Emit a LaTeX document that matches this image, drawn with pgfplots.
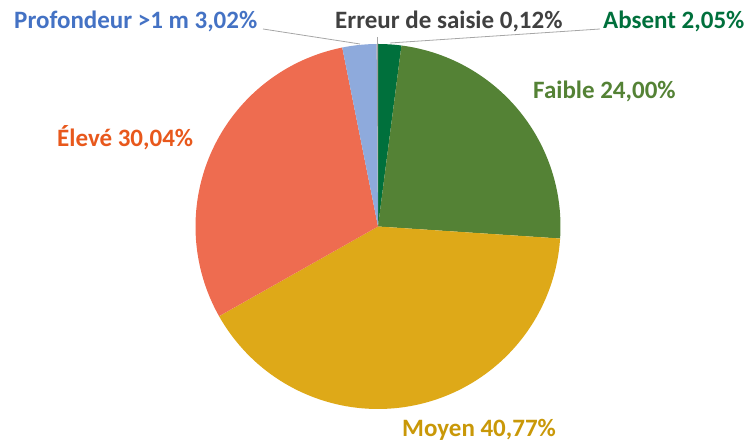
\documentclass[border=0pt]{standalone}
\usepackage{pgfplots}
\usepackage{pgfplotstable}
\pgfplotsset{compat=1.18}
\usepackage{fontspec}
\setmainfont{Carlito}
\definecolor{cAbsent}{RGB}{0,112,60}
\definecolor{cFaible}{RGB}{84,130,53}
\definecolor{cMoyen}{RGB}{222,169,24}
\definecolor{cEleve}{RGB}{238,108,80}
\definecolor{cProf}{RGB}{142,170,220}
\definecolor{cErreur}{RGB}{160,160,160}
\definecolor{tAbsent}{RGB}{0,112,60}
\definecolor{tFaible}{RGB}{84,130,53}
\definecolor{tMoyen}{RGB}{201,152,8}
\definecolor{tEleve}{RGB}{232,88,28}
\definecolor{tProf}{RGB}{68,114,196}
\definecolor{tErreur}{RGB}{64,64,64}
\definecolor{leader}{RGB}{166,166,166}

\pgfplotstableread{
name value
Absent 2.05
Faible 24.00
Moyen 40.77
Eleve 30.04
Profondeur 3.02
Erreur 0.12
}\piedata

\begin{document}
\begin{tikzpicture}
\gdef\cum{0}
\foreach \i in {0,...,5}{
  \pgfplotstablegetelem{\i}{value}\of\piedata
  \pgfmathsetmacro\st{90-3.6*\cum}
  \pgfmathsetmacro\newcum{\cum+\pgfplotsretval}
  \pgfmathsetmacro\en{90-3.6*\newcum}
  \expandafter\xdef\csname sa\i\endcsname{\st}
  \expandafter\xdef\csname ea\i\endcsname{\en}
  \xdef\cum{\newcum}
}
\begin{axis}[
  x=1pt, y=1pt, xmin=0, xmax=749, ymin=0, ymax=443,
  hide axis, scale only axis, clip=false,
]
\path (axis cs:0,0) rectangle (axis cs:749,443);
\def\cx{378}\def\cy{216.5}\def\r{182.5}
\addplot[fill=cAbsent, draw=none, domain=\csname ea0\endcsname:\csname sa0\endcsname, samples=10] ({\cx+\r*cos(x)},{\cy+\r*sin(x)}) -- (axis cs:\cx,\cy) -- cycle;
\addplot[fill=cFaible, draw=none, domain=\csname ea1\endcsname:\csname sa1\endcsname, samples=80] ({\cx+\r*cos(x)},{\cy+\r*sin(x)}) -- (axis cs:\cx,\cy) -- cycle;
\addplot[fill=cMoyen, draw=none, domain=\csname ea2\endcsname:\csname sa2\endcsname, samples=120] ({\cx+\r*cos(x)},{\cy+\r*sin(x)}) -- (axis cs:\cx,\cy) -- cycle;
\addplot[fill=cEleve, draw=none, domain=\csname ea3\endcsname:\csname sa3\endcsname, samples=100] ({\cx+\r*cos(x)},{\cy+\r*sin(x)}) -- (axis cs:\cx,\cy) -- cycle;
\addplot[fill=cProf, draw=none, domain=\csname ea4\endcsname:\csname sa4\endcsname, samples=10] ({\cx+\r*cos(x)},{\cy+\r*sin(x)}) -- (axis cs:\cx,\cy) -- cycle;
\addplot[fill=cErreur, draw=none, domain=\csname ea5\endcsname:\csname sa5\endcsname, samples=3] ({\cx+\r*cos(x)},{\cy+\r*sin(x)}) -- (axis cs:\cx,\cy) -- cycle;
% leader lines
\draw[leader, line width=0.8pt] (axis cs:263,414) -- (axis cs:360,399);
\draw[leader, line width=0.8pt] (axis cs:377,406) -- (axis cs:377,399);
\draw[leader, line width=0.8pt] (axis cs:600,414) -- (axis cs:390,400);
% labels
\begin{scope}[font=\fontsize{25}{28}\selectfont\bfseries, inner sep=0pt]
\node[anchor=base west, text=tProf] at (axis cs:14,414) {Profondeur >1 m 3,02\%};
\node[anchor=base west, text=tErreur] at (axis cs:335,414) {Erreur de saisie 0,12\%};
\node[anchor=base west, text=tAbsent] at (axis cs:603,414) {Absent 2,05\%};
\node[anchor=base west, text=tFaible] at (axis cs:533,344) {Faible 24,00\%};
\node[anchor=base west, text=tEleve] at (axis cs:57,296) {Élevé 30,04\%};
\node[anchor=base west, text=tMoyen] at (axis cs:402,6) {Moyen 40,77\%};
\end{scope}
\end{axis}
\end{tikzpicture}
\end{document}
